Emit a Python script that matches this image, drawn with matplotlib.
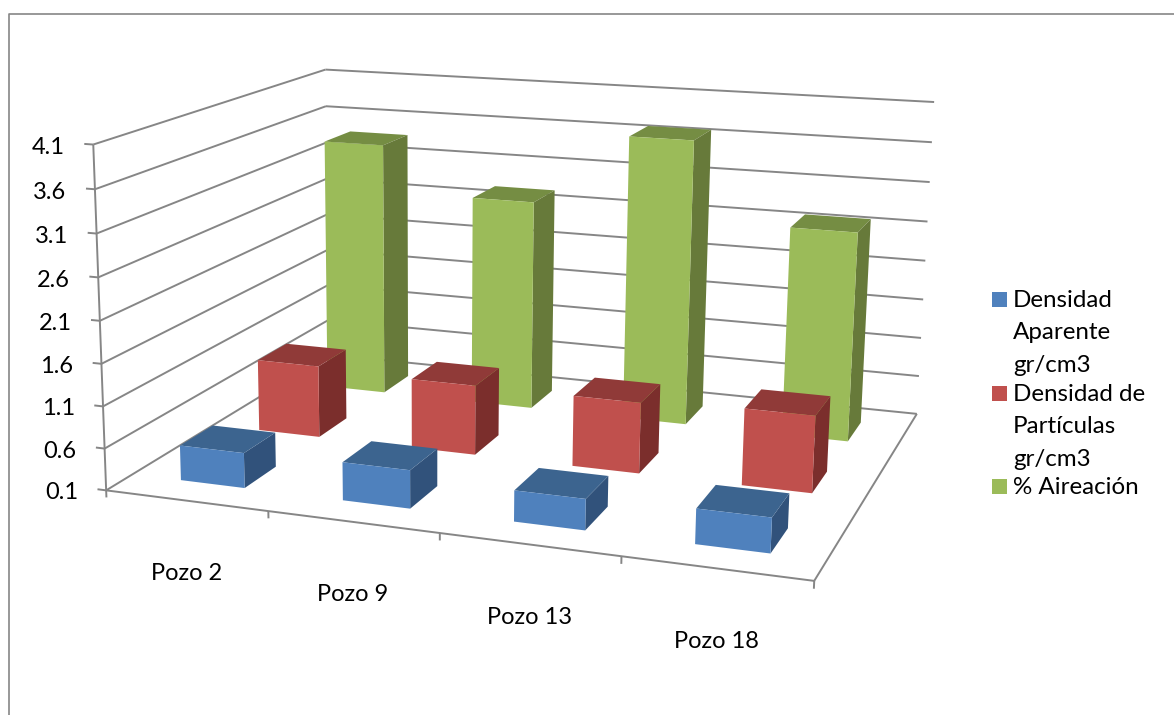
import numpy as np

import matplotlib
matplotlib.use('Agg')
import matplotlib.pyplot as plt
from matplotlib.lines import Line2D
from matplotlib.patches import Rectangle
from mpl_toolkits.mplot3d import proj3d
from mpl_toolkits.mplot3d.art3d import Line3DCollection

width, height = 1174, 715

wells = ['Pozo 2', 'Pozo 9', 'Pozo 13', 'Pozo 18']
level_ticks = [0.1, 0.6, 1.1, 1.6, 2.1, 2.6, 3.1, 3.6, 4.1]

densidad_aparente = [0.52, 0.55, 0.46, 0.50]
densidad_particulas = [1.00, 0.96, 0.96, 1.02]
aireacion = [3.39, 2.79, 3.70, 2.71]

series_names = ['Densidad\nAparente\ngr/cm3', 'Densidad de\nPartículas\ngr/cm3', '% Aireación']
series_values = [densidad_aparente, densidad_particulas, aireacion]
front_colors = ['#4f81bd', '#c0504d', '#9bbb59']
top_colors = ['#3c648f', '#903a38', '#758d43']
side_colors = ['#31527b', '#7b2e2c', '#677a3a']

grid_color = '#868686'
base = level_ticks[0]
top = level_ticks[-1]
n_wells = len(wells)
n_series = len(series_names)
bar_size = 0.4

# camera anchors: data corner -> pixel position on the canvas
anchors = [
    ((0, 0, 0.1), (108, 490)),
    ((1, 0, 0.1), (269, 511)),
    ((2, 0, 0.1), (440, 533)),
    ((3, 0, 0.1), (621, 557)),
    ((4, 0, 0.1), (814, 581)),
    ((4, 3, 0.1), (917.5, 413)),
    ((0, 3, 0.1), (326, 355)),
    ((0, 0, 4.1), (91, 144)),
    ((0, 3, 4.1), (327, 70)),
    ((4, 3, 4.1), (933, 102)),
    ((0, 0, 2.1), (100, 321)),
    ((4, 3, 2.1), (926, 261)),
    ((0, 3, 3.6), (327, 106)),
]


def fit_camera(points):
    rows, rhs = [], []
    for (x, y, z), (u, v) in points:
        rows.append([x, y, z, 1, 0, 0, 0, 0, -u * x, -u * y, -u * z])
        rows.append([0, 0, 0, 0, x, y, z, 1, -v * x, -v * y, -v * z])
        rhs += [u, v]
    p = np.linalg.lstsq(np.array(rows, float), np.array(rhs, float), rcond=None)[0]
    return np.array([
        [p[0], p[1], p[2], p[3]],
        [p[4], p[5], p[6], p[7]],
        [0, 1, 0, 0],
        [p[8], p[9], p[10], 1],
    ])


def fx(px):
    return px / width


def fy(py):
    return 1 - py / height


plt.rcParams['font.family'] = ['Lato', 'DejaVu Sans']
label_size = 17

fig = plt.figure(figsize=(width / 100, height / 100), dpi=100)
ax = fig.add_axes([0, 0, 1, 1], projection='3d', computed_zorder=False)
ax.set_axis_off()

# fixed oblique camera, the projected view is in canvas pixels
camera = fit_camera(anchors)
ax.get_proj = lambda: camera
ax.apply_aspect = lambda *args, **kwargs: None
ax.viewLim.intervalx = (0, width)
ax.viewLim.intervaly = (height, 0)


def to_view(x, y, z):
    u, v, _ = proj3d.proj_transform(x, y, z, camera)
    return u, v


segments = []

# walls
for level in level_ticks:
    segments.append([(0, 0, level), (0, n_series, level)])
    segments.append([(0, n_series, level), (n_wells, n_series, level)])
    segments.append([(-0.055, 0, level), (0, 0, level)])
    u, v = to_view(-0.055, 0, level)
    ax.text2D(u - 19.5, v + 3.5, f'{level:.1f}', transform=ax.transData, ha='right', va='center',
              fontsize=label_size, color='black')

# floor outline and vertical axis
segments.append([(0, 0, base), (n_wells, 0, base)])
segments.append([(n_wells, 0, base), (n_wells, n_series, base)])
segments.append([(0, 0, base), (0, 0, top)])

# category ticks and labels
for i in range(n_wells + 1):
    segments.append([(i, 0, base), (i, 0, base - 0.085)])
for i, well in enumerate(wells):
    u, v = to_view(i + 0.5, 0, base)
    ax.text2D(u, v + 73, well, transform=ax.transData, ha='center', va='center',
              fontsize=label_size, color='black')

ax.add_collection3d(Line3DCollection(segments, colors=grid_color, linewidths=1.4, zorder=2))

# back row first so the front rows cover it
clear = (0, 0, 0, 0)
for s in reversed(range(n_series)):
    xs = np.arange(n_wells) + 0.508 - bar_size / 2
    ys = np.full(n_wells, s + 0.5 - bar_size / 2)
    heights = np.array(series_values[s]) - base
    # face order in bar3d: bottom, top, front, back, left, right
    faces = [clear, top_colors[s], front_colors[s], clear, clear, side_colors[s]] * n_wells
    ax.bar3d(xs, ys, np.full(n_wells, base), bar_size, bar_size, heights,
             color=faces, shade=False, zorder=3 + n_series - s)

# chart frame, open on the right and at the bottom
fig.add_artist(Line2D([fx(8.5), fx(8.5), 1], [0, fy(13.5), fy(13.5)], color=grid_color, lw=1.2))

# legend
legend_tops = [290, 384, 477]
swatch_tops = [292, 386, 479]
for name, color, text_top, swatch_top in zip(series_names, front_colors, legend_tops, swatch_tops):
    fig.add_artist(Rectangle((fx(992), fy(swatch_top + 15)), 15 / width, 15 / height,
                             transform=fig.transFigure, facecolor=color, edgecolor='none'))
    fig.text(fx(1013), fy(text_top), name, ha='left', va='top', fontsize=17.4,
             linespacing=1.67, color='black')

fig.savefig('out.png', dpi=100)
